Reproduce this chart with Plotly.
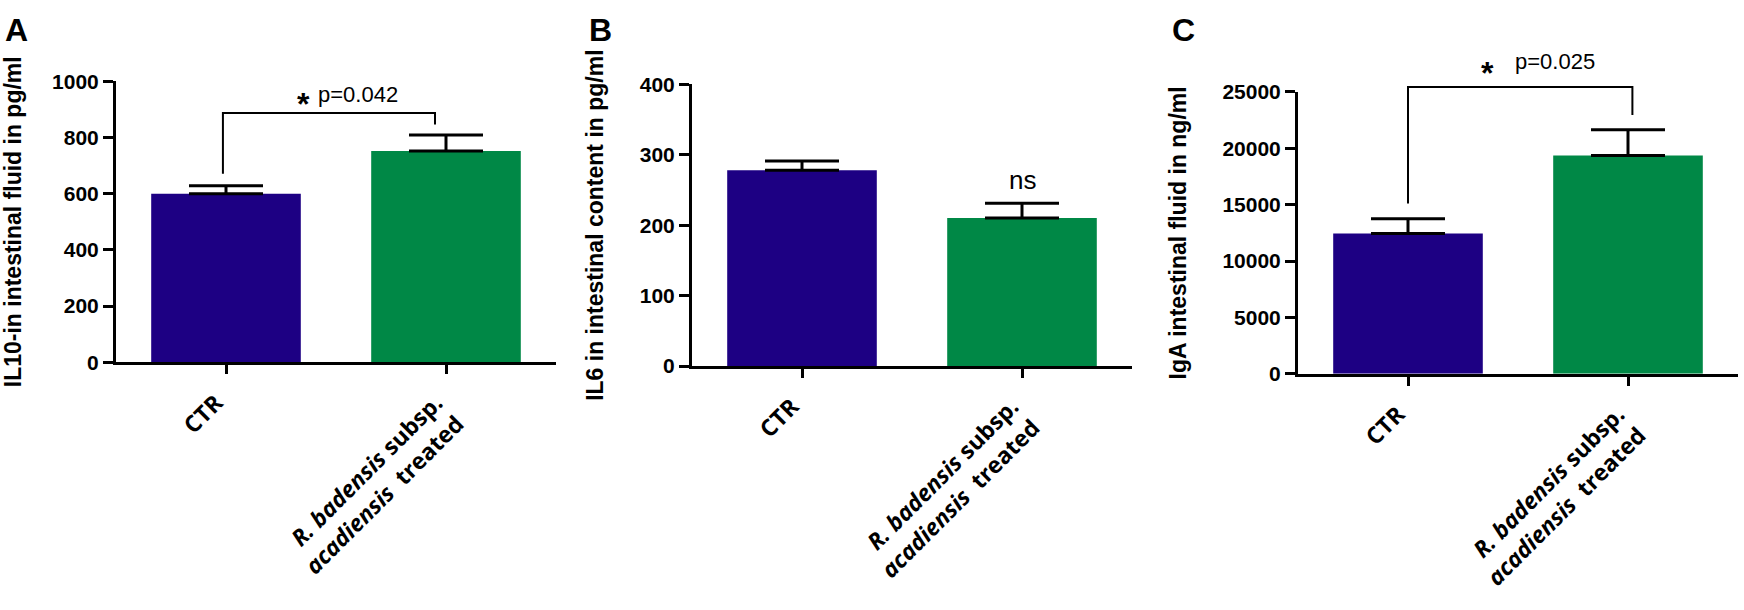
import plotly.graph_objects as go

# group labels (shared by all three panels)
groups = ['CTR', '<i>R. badensis</i> subsp.<br><i>acadiensis</i>\u00a0\u00a0treated']

# panel A - IL10
il10_mean = [600, 752]
il10_sem = [28, 57]

# panel B - IL6
il6_mean = [278, 210]
il6_sem = [13, 21]

# panel C - IgA
iga_mean = [12450, 19350]
iga_sem = [1300, 2300]

titles = ['IL10-in intestinal fluid in pg/ml',
          'IL6 in intestinal content in pg/ml',
          'IgA intestinal fluid in ng/ml']
yticks_a = [0, 200, 400, 600, 800, 1000]
yticks_b = [0, 100, 200, 300, 400]
yticks_c = [0, 5000, 10000, 15000, 20000, 25000]

colors = ['#1d0083', '#008846']

W, H = 1744, 610

fig = go.Figure()

panels = [
    (il10_mean, il10_sem, yticks_a, titles[0], (116, 556), (72, 364)),
    (il6_mean, il6_sem, yticks_b, titles[1], (692, 1132), (75, 368)),
    (iga_mean, iga_sem, yticks_c, titles[2], (1298, 1738), (83, 376)),
]

for i, (mean, sem, yt, title, xpx, ypx) in enumerate(panels):
    n = '' if i == 0 else str(i + 1)
    fig.add_trace(go.Bar(
        x=[0, 1], y=mean, width=0.68,
        marker=dict(color=colors, line=dict(width=0)),
        error_y=dict(type='data', symmetric=False, array=sem, arrayminus=[0, 0],
                     color='black', thickness=3, width=37),
        xaxis='x' + n, yaxis='y' + n, showlegend=False, hoverinfo='skip',
    ))
    fig.layout['xaxis' + n] = dict(
        domain=[xpx[0] / W, xpx[1] / W], anchor='y' + n,
        range=[-0.5, 1.5], tickvals=[0, 1], ticktext=groups, tickangle=-45,
        showline=True, linewidth=3, linecolor='black',
        ticks='outside', ticklen=9, tickwidth=3, tickcolor='black',
        ticklabelshift=-10, ticklabelstandoff=6,
        showgrid=False, zeroline=False,
        tickfont=dict(family='Open Sans', size=23, color='black', weight='bold'),
    )
    fig.layout['yaxis' + n] = dict(
        domain=[1 - ypx[1] / H, 1 - ypx[0] / H], anchor='x' + n,
        range=[0, yt[-1]], tickvals=yt, tickformat='d',
        showline=True, linewidth=3, linecolor='black',
        ticks='outside', ticklen=10, tickwidth=3, tickcolor='black',
        showgrid=False, zeroline=False,
        tickfont=dict(family='Liberation Sans', size=21, color='black', weight='bold'),
        title=dict(text='<b>' + title + '</b>', standoff=30,
                   font=dict(family='Liberation Sans', size=23, color='black')),
    )


def bracket(n, ymax, x0, x1, y_left, y_right, y_top):
    # significance bracket, heights in data units
    xs = [x0, x0, x1, x1]
    ys = [y_left, y_top, y_top, y_right]
    path = 'M ' + ' L '.join('%s,%s' % (x, y / ymax) for x, y in zip(xs, ys))
    fig.add_shape(type='path', path=path, xref='x' + n, yref='y' + n + ' domain',
                  line=dict(color='black', width=2))


def label(n, ymax, x, y, text, font):
    fig.add_annotation(x=x, y=y / ymax, xref='x' + n, yref='y' + n + ' domain',
                       text=text, showarrow=False, font=font,
                       xanchor='center', yanchor='middle')


bracket('', 1000, -0.014, 0.95, 671, 846, 887)
bracket('3', 25000, 0.0, 1.02, 15100, 22950, 25430)

txt = dict(family='Liberation Sans', size=22, color='black')
star = dict(family='Liberation Sans', size=32, color='black', weight='bold')

label('', 1000, 0.35, 918, '*', star)
label('', 1000, 0.6, 952, 'p=0.042', txt)
label('2', 400, 1.0, 264, 'ns', dict(family='Liberation Sans', size=26, color='black'))
label('3', 25000, 0.36, 26700, '*', star)
label('3', 25000, 0.67, 27650, 'p=0.025', txt)

for letter, px in [('A', 3), ('B', 587), ('C', 1170)]:
    fig.add_annotation(x=px / W, y=1 - 19 / H, xref='paper', yref='paper', text='<b>' + letter + '</b>',
                       showarrow=False, xanchor='left', yanchor='middle',
                       font=dict(family='Liberation Sans', size=32, color='black'))

fig.update_layout(
    width=W, height=H,
    margin=dict(l=0, r=0, t=0, b=0),
    plot_bgcolor='white', paper_bgcolor='white',
)

fig.write_html('out.html', config={'displayModeBar': False},
               post_script="document.body.style.margin = '0';")
